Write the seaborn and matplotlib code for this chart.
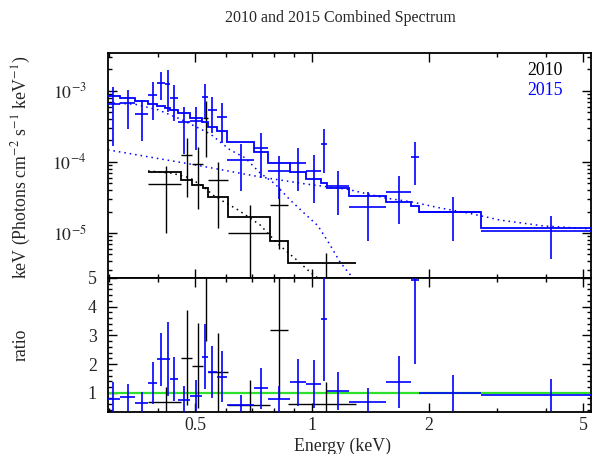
import numpy as np
import pandas as pd
import matplotlib
matplotlib.use("Agg")
import matplotlib.pyplot as plt
import seaborn as sns
from matplotlib.ticker import FixedLocator, FuncFormatter, LogLocator, MultipleLocator, NullFormatter

# ---------------- 2010 spectrum (black) ----------------
edges_2010 = [0.3786, 0.4596, 0.4898, 0.5245, 0.5385, 0.6086, 0.779, 0.869, 1.2985]
flux_2010 = [4.9e-5, 1.24e-4, 9.2e-5, 4.13e-4, 5.58e-5, 1.0e-5, 2.5e-5, 2.3e-6]
ferr_2010 = [3.9e-5, 9.2e-5, 7.0e-5, 2.94e-4, 4.4e-5, 1.48e-5, 1.9e-5, 3.0e-6]
model_2010 = [7.30e-5, 5.58e-5, 4.74e-5, 4.26e-5, 3.25e-5, 1.70e-5, 7.84e-6, 3.84e-6]

# unfolded model curve, 2010
comp_E_2010 = [0.3779, 0.4357, 0.4849, 0.5300, 0.5623, 0.6446, 0.7345, 0.8173, 0.9202, 0.9882, 1.036]
comp_F_2010 = [7.47e-5, 6.93e-5, 5.95e-5, 4.26e-5, 3.25e-5, 2.11e-5, 1.30e-5, 7.0e-6, 4.03e-6, 2.82e-6, 2.32e-6]

# ---------------- 2015 spectrum (blue) ----------------
edges_2015 = [0.295, 0.3200, 0.3499, 0.3786, 0.3993, 0.4180, 0.4305, 0.4506, 0.4849,
              0.5205, 0.5384, 0.5681, 0.6029, 0.7101, 0.7689, 0.8776, 0.9633, 1.0548,
              1.0911, 1.2458, 1.5486, 1.7963, 1.8873, 2.7215, 5.525]
flux_2015 = [6.48e-4, 6.63e-4, 4.70e-4, 8.65e-4, 1.30e-3, 1.245e-3, 7.99e-4, 3.64e-4,
             3.72e-4, 8.30e-4, 5.43e-4, 4.26e-4, 1.08e-4, 1.58e-4, 7.52e-5, 9.74e-5,
             7.49e-5, 1.78e-4, 4.65e-5, 2.29e-5, 3.81e-5, 1.19e-4, 2.0e-5, 1.07e-5]
ferr_2015 = [4.82e-4, 3.71e-4, 2.75e-4, 4.75e-4, 5.53e-4, 7.4e-4, 4.2e-4, 2.33e-4,
             2.23e-4, 4.17e-4, 2.86e-4, 2.43e-4, 6.9e-5, 9.9e-5, 4.5e-5, 5.8e-5,
             4.84e-5, 1.08e-4, 2.87e-5, 1.53e-5, 2.48e-5, 7.1e-5, 1.24e-5, 6.4e-6]
model_2015 = [8.31e-4, 7.89e-4, 7.23e-4, 6.50e-4, 6.01e-4, 5.71e-4, 5.40e-4, 4.85e-4,
              4.13e-4, 3.69e-4, 3.14e-4, 2.73e-4, 1.93e-4, 1.37e-4, 9.77e-5, 7.16e-5,
              5.76e-5, 5.01e-5, 4.35e-5, 3.32e-5, 2.76e-5, 2.42e-5, 2.0e-5, 1.16e-5]

# model components, 2015
pl_E_2015 = [0.2979, 0.4994, 0.7345, 0.9593, 1.238, 1.542, 1.810, 2.137, 2.524, 3.052, 3.939, 5.238]
pl_F_2015 = [1.476e-4, 9.07e-5, 6.15e-5, 4.90e-5, 4.10e-5, 3.11e-5, 2.73e-5, 2.25e-5,
             1.91e-5, 1.52e-5, 1.26e-5, 1.14e-5]
th_E_2015 = [0.2979, 0.3499, 0.4010, 0.4624, 0.4994, 0.5461, 0.6145, 0.6721, 0.7345,
             0.8028, 0.8776, 0.9593, 1.036, 1.113, 1.181, 1.238, 1.291]
th_F_2015 = [6.78e-4, 6.46e-4, 5.40e-4, 3.90e-4, 3.16e-4, 2.48e-4, 1.476e-4, 1.14e-4,
             7.0e-5, 4.90e-5, 2.92e-5, 1.85e-5, 1.26e-5, 6.78e-6, 3.90e-6, 2.82e-6, 2.18e-6]

# axis texts
title = "2010 and 2015 Combined Spectrum"
xlabel = "Energy (keV)"
ylabel_top = r"keV (Photons cm$^{-2}$ s$^{-1}$ keV$^{-1}$)"
ylabel_bot = "ratio"
xticks = [0.5, 1, 2, 5]
xtick_labels = ["0.5", "1", "2", "5"]
xminor = [0.3, 0.4, 0.6, 0.7, 0.8, 0.9, 3, 4]

BLUE = "#0000ff"
BLACK = "#000000"
GREEN = "#2ee02e"
FS = 12.8

sns.set_style("ticks")
plt.rcParams["font.family"] = ["Liberation Serif", "DejaVu Serif"]
plt.rcParams["mathtext.fontset"] = "stix"

fig = plt.figure(figsize=(5.92, 4.54), dpi=100)
ax1 = fig.add_axes([0.182, 0.3883, 0.8164, 0.495])
ax2 = fig.add_axes([0.182, 0.0932, 0.8164, 0.2951], sharex=ax1)


def spectrum(edges, flux, ferr, model):
    e = np.asarray(edges)
    f = np.asarray(flux)
    fe = np.asarray(ferr)
    m = np.asarray(model)
    mid = 0.5 * (e[:-1] + e[1:])
    half = 0.5 * (e[1:] - e[:-1])
    return e, f, fe, m, mid, half


for edges, flux, ferr, model, col, lw in [
    (edges_2010, flux_2010, ferr_2010, model_2010, BLACK, 1.0),
    (edges_2015, flux_2015, ferr_2015, model_2015, BLUE, 1.2),
]:
    e, f, fe, m, mid, half = spectrum(edges, flux, ferr, model)
    lo = np.minimum(fe, f * (1 - 1e-9))
    ax1.errorbar(mid, f, xerr=half, yerr=[lo, fe], fmt="none", ecolor=col,
                 elinewidth=lw, capsize=0, zorder=3)
    ax1.stairs(m, e, baseline=None, color=col, lw=1.3, zorder=4)
    r = f / m
    re = fe / m
    ax2.errorbar(mid, r, xerr=half, yerr=re, fmt="none", ecolor=col,
                 elinewidth=lw, capsize=0, zorder=3)

dots = (0, (1, 2.6))
comps = pd.DataFrame({
    "E": comp_E_2010 + pl_E_2015 + th_E_2015,
    "F": comp_F_2010 + pl_F_2015 + th_F_2015,
    "part": ["m2010"] * len(comp_E_2010) + ["pl2015"] * len(pl_E_2015) + ["th2015"] * len(th_E_2015),
})
for part, col in [("m2010", BLACK), ("pl2015", BLUE), ("th2015", BLUE)]:
    sub = comps[comps["part"] == part]
    sns.lineplot(data=sub, x="E", y="F", ax=ax1, color=col, lw=1.1,
                 linestyle=dots, estimator=None, sort=False, zorder=2)

ax2.axhline(1.0, color=GREEN, lw=1.6, zorder=1)

# ---------------- axes styling ----------------
ax1.set_xscale("log")
ax1.set_yscale("log")
ax1.set_xlim(0.2974, 5.24)
ax1.set_ylim(2.35e-6, 3.4e-3)
ax2.set_ylim(0.34, 5.005)

for ax in (ax1, ax2):
    ax.set_xlabel("")
    ax.set_ylabel("")
    ax.xaxis.set_major_locator(FixedLocator(xticks))
    ax.xaxis.set_minor_locator(FixedLocator(xminor))
    ax.tick_params(which="both", direction="in", top=True, right=True,
                   width=1.0, color="black", labelsize=FS)
    ax.tick_params(which="major", length=6.5)
    ax.tick_params(which="minor", length=3.2)
    for s in ax.spines.values():
        s.set_linewidth(1.3)
        s.set_color("black")

ax1.tick_params(axis="x", labelbottom=False)
ax1.yaxis.set_major_locator(LogLocator(base=10, numticks=10))
ax1.yaxis.set_minor_locator(LogLocator(base=10, subs=np.arange(2, 10), numticks=20))
ax1.yaxis.set_minor_formatter(NullFormatter())
ax1.yaxis.set_major_formatter(FuncFormatter(lambda v, p: r"$10^{%d}$" % round(np.log10(v))))
ax1.tick_params(axis="y", which="major", pad=15)

ax2.xaxis.set_major_formatter(FuncFormatter(lambda v, p: xtick_labels[xticks.index(v)] if v in xticks else ""))
ax2.xaxis.set_minor_formatter(NullFormatter())
ax2.yaxis.set_major_locator(MultipleLocator(1))
ax2.yaxis.set_minor_locator(MultipleLocator(0.2))
ax2.tick_params(axis="y", which="major", pad=8)
ax2.tick_params(axis="x", which="major", pad=4)

ax1.text(0.942, 0.924, "2010", transform=ax1.transAxes, ha="right", va="center",
         fontsize=FS, color=BLACK)
ax1.text(0.942, 0.831, "2015", transform=ax1.transAxes, ha="right", va="center",
         fontsize=FS, color=BLUE)

fig.text(340 / 592, 1 - 18 / 454, title, ha="center", va="center", fontsize=11.5)
fig.text(342 / 592, 1 - 446 / 454, xlabel, ha="center", va="center", fontsize=FS)
fig.text(21 / 592, 1 - 167 / 454, ylabel_top, ha="center", va="center", rotation=90, fontsize=FS)
fig.text(21 / 592, 1 - 345 / 454, ylabel_bot, ha="center", va="center", rotation=90, fontsize=FS)

fig.savefig("out.png", dpi=100)
